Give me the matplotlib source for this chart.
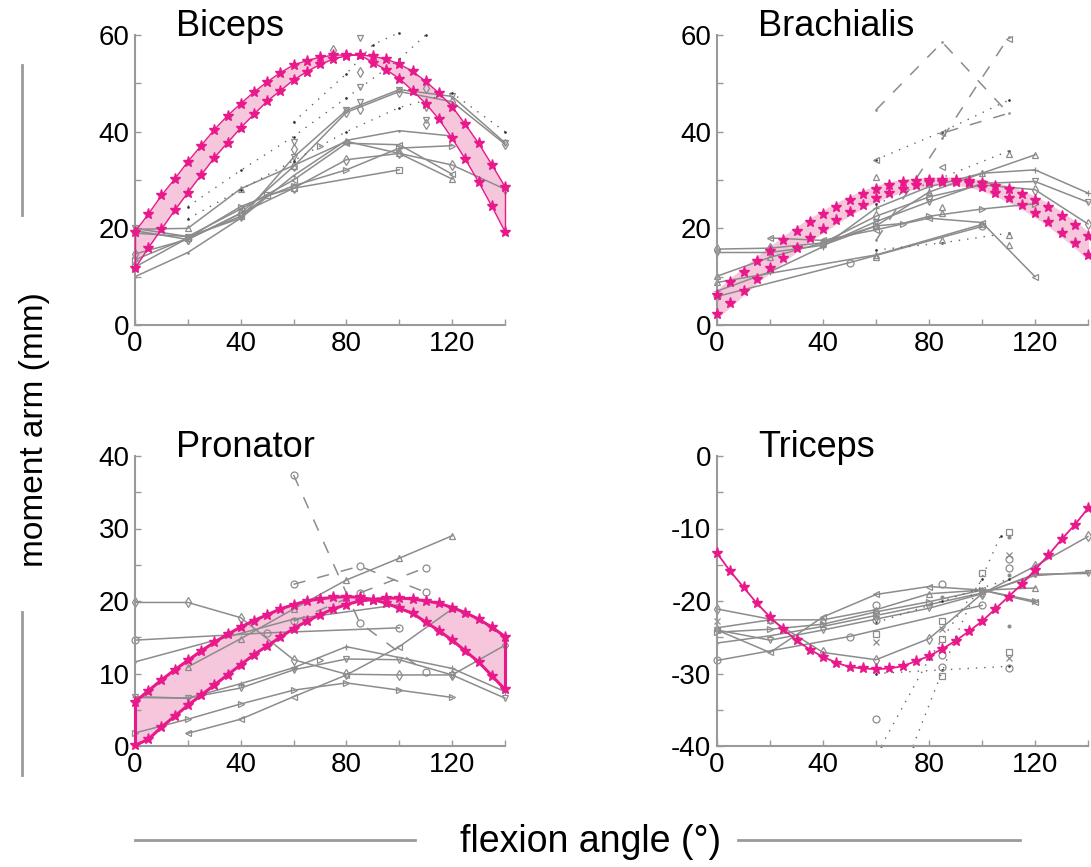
import numpy as np
import matplotlib.pyplot as plt
from matplotlib.lines import Line2D

plt.rcParams['font.family'] = ['Liberation Sans', 'DejaVu Sans']
plt.rcParams['axes.unicode_minus'] = False

MAG = '#e8198b'
PINK = '#f5c6dc'
GRAY = '#8c8c8c'
AXC = '#9a9a9a'

ang5 = np.arange(0, 141, 5)

# ---- model bands (5 deg steps) ----
biceps_a = [19.3, 22.9, 26.8, 30.2, 33.8, 37.1, 40.4, 43.3, 45.8, 48.2, 50.3, 52.2, 53.8, 54.7, 55.4,
            55.8, 55.9, 55.9, 55.6, 55.0, 54.0, 52.5, 50.4, 48.0, 45.2, 41.5, 37.6, 33.2, 28.6]
biceps_b = [11.7, 15.9, 19.8, 23.7, 27.4, 31.0, 34.6, 37.7, 40.8, 43.6, 46.3, 48.5, 50.7, 52.4, 53.9,
            55.0, 55.7, 55.9, 54.3, 52.8, 51.0, 48.5, 45.8, 42.6, 38.6, 34.3, 29.6, 24.6, 19.3]
brach_a = [6.3, 8.8, 11.0, 13.3, 15.4, 17.5, 19.5, 21.3, 22.9, 24.5, 25.9, 27.1, 28.1, 28.9, 29.5,
           29.7, 29.9, 29.9, 29.9, 29.7, 29.3, 28.8, 28.1, 27.1, 25.9, 24.4, 22.6, 20.7, 18.4]
brach_b = [2.3, 4.6, 7.1, 9.5, 11.7, 13.9, 15.9, 18.1, 19.9, 21.7, 23.4, 24.9, 26.2, 27.3, 28.2,
           28.9, 29.5, 29.6, 29.6, 29.3, 28.5, 27.4, 26.2, 24.8, 23.1, 21.3, 19.1, 16.9, 14.4]
pron_a = [6.1, 7.6, 9.1, 10.5, 11.8, 13.1, 14.3, 15.4, 16.4, 17.3, 18.1, 18.9, 19.5, 20.0, 20.3,
          20.5, 20.6, 20.5, 20.2, 19.7, 19.0, 18.3, 17.1, 15.9, 14.6, 13.1, 11.6, 9.7, 7.8]
pron_b = [0.1, 0.9, 2.6, 4.1, 5.6, 7.0, 8.4, 9.8, 11.2, 12.6, 13.8, 15.0, 16.2, 17.2, 18.1,
          18.9, 19.5, 20.0, 20.2, 20.4, 20.4, 20.3, 20.0, 19.7, 19.1, 18.4, 17.5, 16.4, 15.1]
tri_model = [-13.4, -15.9, -18.1, -20.3, -22.2, -23.9, -25.4, -26.7, -27.7, -28.5, -29.1, -29.3, -29.4,
             -29.3, -29.0, -28.3, -27.6, -26.6, -25.5, -24.2, -22.8, -21.1, -19.4, -17.7, -15.7,
             -13.7, -11.5, -9.5, -7.2]

DOT = (0, (1, 5))
DASH = (0, (8, 8))

# ---- experimental curves: (angles, values, marker, linestyle) ----
biceps_lines = [
    ([0, 20, 40, 60, 80, 100, 120, 140], [20.0, 18.3, 22.1, 34.7, 44.4, 48.7, 47.3, 37.7], 'v', '-'),
    ([0, 20, 40, 60, 80, 100, 120, 140], [19.5, 17.7, 23.1, 32.8, 44.0, 48.3, 46.2, 37.4], 'd', '-'),
    ([0, 20, 40, 60, 80, 100, 120], [10.0, 15.0, 22.1, 30.9, 38.2, 40.2, 39.1], '.', '-'),
    ([0, 20, 40, 60, 80, 100, 120], [19.8, 20.0, 28.2, 33.0, 38.0, 35.5, 30.2], '^', '-'),
    ([0, 20, 40, 60, 80, 100, 120], [13.5, 18.0, 24.5, 28.8, 32.1, 36.6, 37.1], '>', '-'),
    ([0, 20, 40, 60, 80, 100, 120, 140], [14.7, 17.7, 23.1, 28.3, 34.2, 35.5, 33.1, 28.1], 'd', '-'),
    ([0, 20, 40, 50, 60, 100], [12.0, 18.0, 22.5, 26.8, 28.3, 32.1], 's', '-'),
    ([0, 20, 40, 60, 80, 100, 120], [19.0, 18.3, 24.0, 30.0, 37.6, 37.3, 31.2], '<', '-'),
    ([20, 40, 60, 80, 100, 110], [24.5, 32.0, 39.0, 47.0, 55.0, 60.0], '.', DOT),
    ([20, 40, 60, 80, 100, 120, 140], [22.0, 28.0, 34.0, 40.0, 45.0, 48.0, 40.0], '.', DOT),
    ([60, 80, 90, 100], [42.0, 52.0, 58.0, 60.5], '.', DOT),
]
biceps_pts = [
    (60, 37.9, 'v'), (60, 36.4, 'd'), (70, 37.1, '>'),
    (85, 59.4, 'v'), (85, 52.4, 'd'), (85, 49.2, 'v'), (85, 46.2, 'v'), (85, 44.7, 'd'),
    (110, 49.0, 'd'), (110, 44.9, 'v'), (110, 42.4, 'v'), (110, 41.6, 'd'), (75, 57.0, 'd'),
]

brach_lines = [
    ([0, 20, 40, 60, 80, 100, 120, 140], [15.0, 15.0, 16.5, 21.4, 25.5, 29.3, 29.7, 25.4], 'v', '-'),
    ([0, 20, 40, 60, 80, 100, 120, 140], [15.7, 15.9, 17.0, 22.5, 26.5, 29.0, 28.0, 20.9], 'd', '-'),
    ([0, 20, 40, 60, 80, 100, 120, 140], [7.0, 11.0, 16.2, 24.2, 28.6, 31.4, 32.1, 27.3], '+', '-'),
    ([0, 20, 40, 60, 80, 100, 120], [10.1, 14.0, 17.0, 20.5, 27.5, 31.4, 35.2], '^', '-'),
    ([40, 60, 70, 80, 100, 120], [16.5, 20.5, 21.0, 22.5, 24.0, 25.1], '>', '-'),
    ([20, 40, 60, 80, 100, 120], [18.0, 17.5, 19.7, 22.1, 21.2, 10.0], '<', '-'),
    ([0, 50, 100], [5.9, 12.9, 20.4], 'o', '-'),
    ([0, 60, 100], [8.8, 14.5, 20.8], '^', '-'),
    ([60, 85, 110, 85], [44.5, 58.5, 43.8, 39.7], '.', DASH),
    ([60, 85, 110], [17.5, 38.6, 59.5], '.', DASH),
    ([60, 85, 110], [34.2, 40.0, 46.5], '.', DOT),
    ([60, 85, 110], [15.5, 17.0, 19.0], '.', DOT),
    ([60, 85, 110], [25.0, 30.5, 36.0], '.', DOT),
]
brach_pts = [
    (60, 34.2, '<'), (60, 30.7, '^'), (60, 14.0, '^'),
    (85, 39.7, '<'), (85, 32.7, '<'), (85, 24.5, '^'), (85, 23.1, '^'), (85, 17.5, '^'),
    (110, 35.3, '^'), (110, 18.6, '^'), (110, 16.6, '^'), (110, 59.1, '<'),
]

pron_lines = [
    ([0, 20, 40, 60, 80, 100, 120, 140], [19.8, 19.8, 17.7, 11.9, 9.9, 9.8, 9.8, 13.9], 'd', '-'),
    ([0, 50, 100], [14.6, 15.6, 16.3], 'o', '-'),
    ([20, 40, 60, 80, 100, 120], [10.9, 14.8, 18.9, 22.9, 25.9, 29.0], '^', '-'),
    ([0, 60, 100], [11.6, 17.5, 19.5], '.', '-'),
    ([0, 20, 40, 60, 80, 120, 140], [6.7, 6.6, 8.6, 10.8, 13.7, 10.7, 7.5], '+', '-'),
    ([0, 20, 40, 60, 80, 100, 120, 140], [6.8, 6.6, 8.0, 10.5, 12.0, 11.9, 9.8, 6.6], 'v', '-'),
    ([0, 20, 40, 60, 80, 100, 120], [1.8, 3.7, 5.8, 7.7, 8.7, 7.7, 6.7], '>', '-'),
    ([20, 40, 60, 80, 100, 120], [1.75, 3.7, 6.8, 9.8, 13.7, 18.9], '<', '-'),
    ([60, 85, 110], [37.4, 17.0, 10.2], 'o', DASH),
    ([60, 85, 110], [22.3, 24.8, 21.2], 'o', DASH),
    ([60, 85, 110], [17.2, 21.1, 24.6], 'o', DASH),
]
pron_pts = [(70, 11.8, '>')]

tri_lines = [
    ([0, 20, 40, 60, 80, 100, 120, 140], [-21.1, -22.5, -27.1, -28.1, -25.2, -19.0, -15.2, -11.1], 'd', '-'),
    ([0, 20, 40, 60, 80, 100, 120, 140], [-24.0, -25.4, -24.0, -22.5, -21.0, -19.0, -16.3, -16.2], 'v', '-'),
    ([0, 20, 40, 60, 80, 100, 120], [-23.7, -22.6, -22.6, -21.2, -19.0, -18.5, -18.2], '^', '-'),
    ([0, 20, 40, 60, 80, 100, 120], [-24.0, -27.1, -22.2, -19.1, -18.0, -18.5, -20.2], '<', '-'),
    ([0, 20, 40, 60, 80, 100, 120], [-24.3, -23.9, -23.2, -21.5, -20.1, -18.5, -20.0], '>', '-'),
    ([0, 50, 100], [-28.2, -24.9, -20.6], 'o', '-'),
    ([0, 20, 40, 60, 80, 100, 120, 140], [-25.8, -24.8, -23.5, -22.0, -20.5, -18.9, -16.5, -16.0], '.', '-'),
    ([62, 80, 100], [-40.0, -28.0, -17.0], '.', DOT),
    ([74, 90, 107], [-40.0, -25.0, -11.0], '.', DOT),
    ([60, 85, 110], [-30.0, -29.5, -29.0], '.', DOT),
    ([60, 85, 110], [-23.0, -20.0, -17.0], '.', DOT),
]
tri_pts = [
    (0, -22.7, 'x'), (60, -20.5, 'o'), (60, -22.6, 'o'), (60, -24.6, 's'), (60, -25.7, 'x'), (60, -36.3, 'o'),
    (85, -17.7, 'o'), (85, -19.5, '.'), (85, -22.8, 's'), (85, -23.8, 'x'), (85, -25.2, 's'),
    (85, -27.4, 'o'), (85, -29.1, 'o'), (85, -30.3, 's'), (100, -16.1, 's'),
    (110, -10.5, 's'), (110, -11.2, '.'), (110, -13.7, 'x'), (110, -14.2, 'o'), (110, -15.5, 'o'),
    (110, -16.4, '.'), (110, -23.4, '.'), (110, -27.1, 's'), (110, -27.9, 'x'), (110, -29.2, 'o'),
]

W, H = 1091, 867
fig = plt.figure(figsize=(W / 100, H / 100), dpi=100)


def make_ax(x0, y_top, y_bot, width):
    return fig.add_axes([x0 / W, (H - y_bot) / H, width / W, (y_bot - y_top) / H])


def style(ax, ylim, ymaj, ymin, title):
    ax.set_xlim(0, 140)
    ax.set_ylim(*ylim)
    ax.set_xticks([0, 40, 80, 120])
    ax.set_xticks([20, 60, 100, 140], minor=True)
    ax.set_yticks(ymaj)
    ax.set_yticks(ymin, minor=True)
    for s in ['top', 'right']:
        ax.spines[s].set_visible(False)
    for s in ['left', 'bottom']:
        ax.spines[s].set_color(AXC)
        ax.spines[s].set_linewidth(1.5)
    ax.tick_params(which='both', direction='in', color=AXC, length=4, width=1, labelsize=20, pad=4)
    ax.text(0.11, 0.995, title, transform=ax.transAxes, fontsize=26, va='baseline', ha='left')


def draw_gray(ax, lines, pts=()):
    for xs, ys, mk, ls in lines:
        dotted = ls is DOT
        ax.plot(xs, ys, color='#666666' if dotted else GRAY, ls=ls, lw=1.0 if dotted else 1.1,
                marker=mk, ms=2 if mk == '.' else 5, mfc='none' if mk not in '.+x' else GRAY,
                mec='#333333' if dotted else GRAY, mew=0.9, clip_on=False, zorder=2)
    for x, y, mk in pts:
        ax.plot([x], [y], ls='none', marker=mk, ms=5 if mk != '.' else 4, mfc='none' if mk != '.' else GRAY,
                mec=GRAY, mew=0.9, clip_on=False, zorder=2)


def draw_band(ax, a, b, edge=True, lw=1.0):
    ax.fill_between(ang5, a, b, color=PINK, lw=0, zorder=1)
    if edge:
        ax.plot(ang5, a, color=MAG, lw=lw, zorder=3, clip_on=False)
        ax.plot(ang5, b, color=MAG, lw=lw, zorder=3, clip_on=False)
        ax.plot([0, 0], [a[0], b[0]], color=MAG, lw=lw, zorder=3, clip_on=False)
        ax.plot([140, 140], [a[-1], b[-1]], color=MAG, lw=lw, zorder=3, clip_on=False)
    else:
        ax.fill_between(ang5, a, b, color=PINK, lw=5, edgecolor=PINK, zorder=1)
    ax.plot(ang5, a, ls='none', marker='*', ms=8, color=MAG, zorder=4, clip_on=False)
    ax.plot(ang5, b, ls='none', marker='*', ms=8, color=MAG, zorder=4, clip_on=False)


ax1 = make_ax(135, 35, 325, 370)
style(ax1, (0, 60), [0, 20, 40, 60], [10, 30, 50], 'Biceps')
draw_band(ax1, biceps_a, biceps_b)
draw_gray(ax1, biceps_lines, biceps_pts)

ax2 = make_ax(717, 35, 325, 371)
style(ax2, (0, 60), [0, 20, 40, 60], [10, 30, 50], 'Brachialis')
draw_band(ax2, brach_a, brach_b, edge=False)
draw_gray(ax2, brach_lines, brach_pts)

ax3 = make_ax(135, 456, 746, 370)
style(ax3, (0, 40), [0, 10, 20, 30, 40], [5, 15, 25, 35], 'Pronator')
draw_gray(ax3, pron_lines, pron_pts)
draw_band(ax3, pron_a, pron_b, lw=2.2)

ax4 = make_ax(717, 456, 746, 371)
style(ax4, (-40, 0), [-40, -30, -20, -10, 0], [-35, -25, -15, -5], 'Triceps')
draw_gray(ax4, tri_lines, tri_pts)
ax4.plot(ang5, tri_model, color=MAG, lw=1.3, marker='*', ms=8, zorder=4, clip_on=False)

# shared labels with decorative gray rules
fig.text(35 / W, 1 - 430 / H, 'moment arm (mm)', rotation=90, ha='center', va='center', fontsize=24)
fig.text(591 / W, 1 - 842 / H, 'flexion angle (\u00b0)', ha='center', va='center', fontsize=27)
for (xa, ya), (xb, yb) in [((22, 65), (22, 215)), ((22, 612), (22, 775)),
                           ((135, 840), (415, 840)), ((738, 840), (1020, 840))]:
    fig.add_artist(Line2D([xa / W, xb / W], [1 - ya / H, 1 - yb / H], color=AXC, lw=2))

fig.savefig('out.png', dpi=100)
